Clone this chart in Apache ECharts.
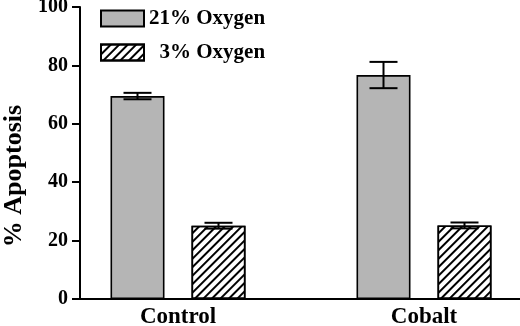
<!DOCTYPE html>
<html>
<head>
<meta charset="utf-8">
<script src="https://cdn.jsdelivr.net/npm/echarts@6/dist/echarts.min.js"></script>
<style>
  html, body { margin: 0; padding: 0; background: #fff; }
  #chart { width: 520px; height: 326px; }
</style>
</head>
<body>
<div id="chart"></div>
<script>
var categories = ["Control", "Cobalt"];
var oxygen21 = [69.5, 76.7];
var oxygen21Err = [1.1, 4.5];
var oxygen3 = [25.1, 25.2];
var oxygen3Err = [1.0, 1.0];
var yTicks = { min: 0, max: 100, interval: 20 };

var FONT = "'Liberation Serif', 'Times New Roman', serif";
var BAR_W = 54;
var BAR_GAP = 27;

var myChart = echarts.init(document.getElementById("chart"));

function errorSeries(name, means, errs, shift) {
  return {
    name: name + " err",
    type: "custom",
    xAxisIndex: 1,
    yAxisIndex: 1,
    z: 5,
    silent: true,
    data: means.map(function (v, i) { return [i, v, errs[i]]; }),
    renderItem: function (params, api) {
      var c = api.value(0), v = api.value(1), e = api.value(2);
      var x = api.coord([c, v])[0] + shift;
      var yTop = api.coord([c, v + e])[1];
      var yBot = api.coord([c, v - e])[1];
      var half = 14;
      var st = { stroke: "#000", lineWidth: 2 };
      return {
        type: "group",
        children: [
          { type: "line", shape: { x1: x, y1: yTop, x2: x, y2: yBot }, style: st },
          { type: "line", shape: { x1: x - half, y1: yTop, x2: x + half, y2: yTop }, style: st },
          { type: "line", shape: { x1: x - half, y1: yBot, x2: x + half, y2: yBot }, style: st }
        ]
      };
    }
  };
}

var shift = (BAR_W + BAR_GAP) / 2;

var option = {
  animation: false,
  backgroundColor: "#fff",
  textStyle: { fontFamily: FONT, fontWeight: "bold", color: "#000" },
  legend: {
    orient: "vertical",
    left: 100,
    top: 8,
    padding: 0,
    icon: "rect",
    itemWidth: 43,
    itemHeight: 16,
    itemGap: 13,
    data: ["21% Oxygen", "3% Oxygen"],
    formatter: function (name) {
      return name.length < 10 ? "\u2007" + name : name;
    },
    textStyle: { fontFamily: FONT, fontWeight: "bold", fontSize: 21, lineHeight: 20, color: "#000" }
  },
  grid: [
    { left: 80, right: 0, top: 7, bottom: 27, containLabel: false, outerBoundsMode: "none" },
    { left: 55, right: -27, top: 7, bottom: 27, containLabel: false, outerBoundsMode: "none" }
  ],
  xAxis: [
    {
      gridIndex: 0,
      type: "value",
      min: 0,
      max: 1,
      axisLine: { show: true, lineStyle: { color: "#000", width: 2 } },
      axisTick: { show: false },
      axisLabel: { show: false },
      splitLine: { show: false }
    },
    {
      gridIndex: 1,
      type: "category",
      data: categories,
      axisLine: { show: false },
      axisTick: { show: false },
      axisLabel: {
        margin: 7,
        fontFamily: FONT,
        fontWeight: "bold",
        fontSize: 23,
        color: "#000"
      }
    }
  ],
  yAxis: [
    {
      gridIndex: 0,
      type: "value",
      min: yTicks.min,
      max: yTicks.max,
      interval: yTicks.interval,
      name: "% Apoptosis",
      nameLocation: "middle",
      nameGap: 52,
      nameTextStyle: {
        fontFamily: FONT,
        fontWeight: "bold",
        fontSize: 26,
        color: "#000",
        padding: [0, 46, 0, 0]
      },
      axisLine: { show: true, lineStyle: { color: "#000", width: 2 } },
      axisTick: { show: true, length: 8, lineStyle: { color: "#000", width: 2 } },
      axisLabel: {
        margin: 12,
        fontFamily: FONT,
        fontWeight: "bold",
        fontSize: 20,
        color: "#000"
      },
      splitLine: { show: false }
    },
    {
      gridIndex: 1,
      type: "value",
      min: yTicks.min,
      max: yTicks.max,
      show: false
    }
  ],
  series: [
    {
      name: "21% Oxygen",
      type: "bar",
      xAxisIndex: 1,
      yAxisIndex: 1,
      barWidth: BAR_W,
      barGap: (BAR_GAP / BAR_W * 100) + "%",
      data: oxygen21,
      itemStyle: { color: "#b5b5b5", borderColor: "#000", borderWidth: 1.6 }
    },
    {
      name: "3% Oxygen",
      type: "bar",
      xAxisIndex: 1,
      yAxisIndex: 1,
      barWidth: BAR_W,
      data: oxygen3,
      itemStyle: {
        color: "#fff",
        borderColor: "#000",
        borderWidth: 1.6,
        decal: {
          symbol: "rect",
          color: "#000",
          dashArrayX: [1, 0],
          dashArrayY: [1.4, 3.4],
          rotation: -Math.PI / 4
        }
      }
    },
    errorSeries("21% Oxygen", oxygen21, oxygen21Err, -shift),
    errorSeries("3% Oxygen", oxygen3, oxygen3Err, shift)
  ]
};

myChart.setOption(option);
</script>
</body>
</html>
